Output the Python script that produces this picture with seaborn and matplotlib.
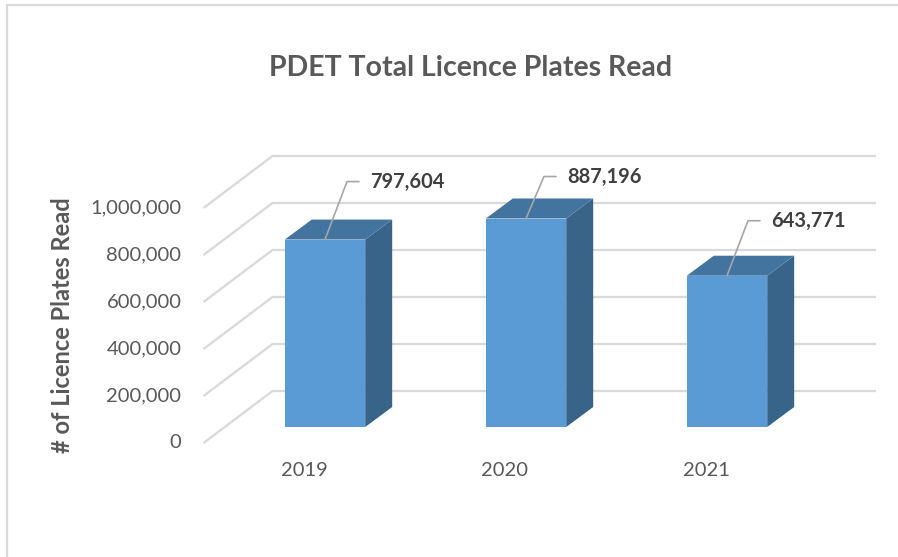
import numpy as np
import pandas as pd
import matplotlib
matplotlib.use("Agg")
import matplotlib.pyplot as plt
import seaborn as sns
from matplotlib.patches import Polygon, Rectangle
from matplotlib.lines import Line2D

# ---------------- data ----------------
years = ["2019", "2020", "2021"]
plates_read = [797604, 887196, 643771]
value_labels = ["797,604", "887,196", "643,771"]
y_ticks = [0, 200000, 400000, 600000, 800000, 1000000]
y_tick_labels = ["0", "200,000", "400,000", "600,000", "800,000", "1,000,000"]
title_text = "PDET Total Licence Plates Read"
y_label_text = "# of Licence Plates Read"

# ---------------- style ----------------
FRONT_C = "#5B9BD5"
TOP_C = "#4374A0"
SIDE_C = "#38648A"
GRID_C = "#D9D9D9"
TEXT_C = "#595959"
LABEL_C = "#404040"
LEADER_C = "#A6A6A6"

W, H, DPI = 898, 557, 100
BACK = (48, 36)          # pixel offset bar plane -> back wall
FRONT = (-21, -16)       # pixel offset bar plane -> front floor edge
DEPTH = (27, 20)         # bar depth in pixels
leader_offsets = [(22, 58), (18, 42), (21, 55)]

sns.set_theme(style="white")
plt.rcParams['font.family'] = ['Lato', 'DejaVu Sans']

fig = plt.figure(figsize=(W / DPI, H / DPI), dpi=DPI)
fig.patch.set_facecolor("white")

ax_l, ax_r, ax_b, ax_t = 224.5, 827.5, 427, 145
ax = fig.add_axes([ax_l / W, (H - ax_b) / H, (ax_r - ax_l) / W, (ax_b - ax_t) / H])
ax.set_facecolor("none")

df = pd.DataFrame({"year": years, "plates": plates_read})
sns.barplot(data=df, x="year", y="plates", ax=ax, color=FRONT_C, width=0.4,
            saturation=1, edgecolor="none", linewidth=0, zorder=5)
ax.set_xlim(-0.5, 2.5)
ax.set_ylim(0, 1.2e6)
ax.axis("off")
fig.canvas.draw()


def shift(x, y, d):
    p = ax.transData.transform((x, y)) + np.array(d, dtype=float)
    return ax.transData.inverted().transform(p)


# back wall gridlines and side-wall diagonals
x0, x1 = ax.get_xlim()
for v in y_ticks:
    a = shift(x0, v, BACK)
    b = shift(x1, v, BACK)
    ax.add_line(Line2D([a[0], b[0]], [a[1], b[1]], color=GRID_C, lw=1.6,
                       zorder=1, clip_on=False, solid_capstyle="butt"))
    c = shift(x0, v, FRONT)
    ax.add_line(Line2D([c[0], a[0]], [c[1], a[1]], color=GRID_C, lw=1.6,
                       zorder=1, clip_on=False, solid_capstyle="butt"))

# y tick labels on the front edge
for v, lab in zip(y_ticks, y_tick_labels):
    c = shift(x0, v, (FRONT[0] - 22, FRONT[1]))
    ax.text(c[0], c[1], lab, ha="right", va="center", fontsize=14.5,
            color=TEXT_C, clip_on=False)

# x tick labels on the front floor edge
for i, yr in enumerate(years):
    c = shift(i, 0, (FRONT[0], FRONT[1] - 27))
    ax.text(c[0], c[1], yr, ha="center", va="center", fontsize=14.5,
            color=TEXT_C, clip_on=False)

# 3D faces of bars
for bar in ax.patches[:len(years)]:
    bx0 = bar.get_x()
    bx1 = bx0 + bar.get_width()
    h = bar.get_height()
    side = [shift(bx1, 0, (0, 0)), shift(bx1, h, (0, 0)),
            shift(bx1, h, DEPTH), shift(bx1, 0, DEPTH)]
    top = [shift(bx0, h, (0, 0)), shift(bx1, h, (0, 0)),
           shift(bx1, h, DEPTH), shift(bx0, h, DEPTH)]
    ax.add_patch(Polygon(side, closed=True, facecolor=SIDE_C, edgecolor="none",
                         zorder=4, clip_on=False))
    ax.add_patch(Polygon(top, closed=True, facecolor=TOP_C, edgecolor="none",
                         zorder=4, clip_on=False))

# data labels with leader lines
for i, (v, lab, off) in enumerate(zip(plates_read, value_labels, leader_offsets)):
    p0 = shift(i, v, (0, 0))
    p1 = shift(i, v, off)
    p2 = shift(i, v, (off[0] + 12, off[1]))
    ax.add_line(Line2D([p0[0], p1[0], p2[0]], [p0[1], p1[1], p2[1]],
                       color=LEADER_C, lw=1.2, zorder=6, clip_on=False))
    t = shift(i, v, (off[0] + 23, off[1]))
    ax.text(t[0], t[1], lab, ha="left", va="center", fontsize=14.5,
            fontweight="bold", color=LABEL_C, clip_on=False, zorder=7)

# title and axis title
fig.text(471 / W, 1 - 68 / H, title_text, ha="center", va="center",
         fontsize=20.5, fontweight="bold", color=TEXT_C)
fig.text(63 / W, 1 - 325 / H, y_label_text, ha="center", va="center",
         rotation=90, fontsize=17, fontweight="bold", color=TEXT_C)

# chart border
fig.patches.append(Rectangle((6.5 / W, -1), 2, 1 + (H - 5) / H,
                             transform=fig.transFigure, fill=False,
                             edgecolor=GRID_C, lw=1.6))

fig.savefig("out.png", dpi=DPI, facecolor="white")
